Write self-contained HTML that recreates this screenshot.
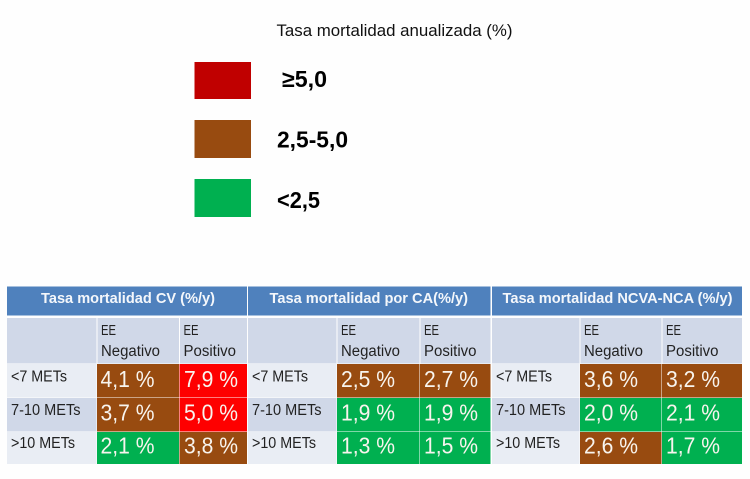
<!DOCTYPE html>
<html lang="es">
<head>
<meta charset="utf-8">
<title>Tasa mortalidad anualizada</title>
<style>
html,body{margin:0;padding:0;background:#fefefe;}
#stage{display:block;width:750px;height:479px;}
text{font-family:"Liberation Sans",sans-serif;}
</style>
</head>
<body>
<svg id="stage" xmlns="http://www.w3.org/2000/svg" width="750" height="479" viewBox="0 0 750 479">
  <g style="filter:blur(.35px)">
    <text x="276.5" y="36" font-size="17" fill="#111" textLength="236" lengthAdjust="spacingAndGlyphs">Tasa mortalidad anualizada (%)</text>
    <rect x="194.5" y="62" width="56.5" height="37" fill="#c00000"/>
    <text x="282" y="87" font-size="23" font-weight="700" fill="#000" textLength="45" lengthAdjust="spacingAndGlyphs">≥5,0</text>
    <rect x="194.5" y="120" width="56.5" height="38" fill="#984b10"/>
    <text x="277" y="147.5" font-size="23" font-weight="700" fill="#000" textLength="71" lengthAdjust="spacingAndGlyphs">2,5-5,0</text>
    <rect x="194.5" y="179" width="56.5" height="38" fill="#00b050"/>
    <text x="277" y="208" font-size="23" font-weight="700" fill="#000" textLength="43" lengthAdjust="spacingAndGlyphs">&lt;2,5</text>
  </g>
  <g id="tables" style="filter:blur(.35px)"></g>
</svg>
<script>
// Data
const panelTitles = ['Tasa mortalidad CV (%/y)', 'Tasa mortalidad por CA(%/y)', 'Tasa mortalidad NCVA-NCA (%/y)'];
const fitnessLabels = ['<7 METs', '7-10 METs', '>10 METs'];
const eeNegative = [
  [4.1, 3.7, 2.1],
  [2.5, 1.9, 1.3],
  [3.6, 2.0, 2.6]
];
const eePositive = [
  [7.9, 5.0, 3.8],
  [2.7, 1.9, 1.5],
  [3.2, 2.1, 1.7]
];
const thresholds = [2.5, 5.0];

// Layout
const NS = 'http://www.w3.org/2000/svg';
const root = document.getElementById('tables');
const panelLayout = [
  {x0: 7, x1: 96.5, x2: 179, x3: 247, tx: 41, tw: 174, lab: 11, neg: 101, pos: 183.5, valNeg: 100.5, valPos: 184},
  {x0: 248, x1: 336.5, x2: 419.5, x3: 490.5, tx: 269.5, tw: 198.5, lab: 252, neg: 341, pos: 424, valNeg: 341, valPos: 424},
  {x0: 492, x1: 579.5, x2: 661.5, x3: 742, tx: 502.5, tw: 230, lab: 496, neg: 584, pos: 666, valNeg: 584, valPos: 666}
];
const rowTop = [364, 398, 432];
const rowBottom = [397.5, 431.5, 464];
const rowBase = [387, 420.5, 453.5];
const labelBase = [381.5, 415, 448];
const labelWidth = [56, 69.5, 64];

function rect(x0, y0, x1, y1, fill) {
  const r = document.createElementNS(NS, 'rect');
  r.setAttribute('x', x0);
  r.setAttribute('y', y0);
  r.setAttribute('width', x1 - x0);
  r.setAttribute('height', y1 - y0);
  r.setAttribute('fill', fill);
  root.appendChild(r);
  return r;
}
function label(str, x, y, size, width, fill, bold) {
  const t = document.createElementNS(NS, 'text');
  t.setAttribute('x', x);
  t.setAttribute('y', y);
  t.setAttribute('font-size', size);
  t.setAttribute('fill', fill);
  if (bold) t.setAttribute('font-weight', '700');
  t.setAttribute('textLength', width);
  t.setAttribute('lengthAdjust', 'spacingAndGlyphs');
  t.textContent = str;
  root.appendChild(t);
  return t;
}
function colorFor(v) {
  if (v >= thresholds[1]) return '#fe0000';
  if (v >= thresholds[0]) return '#984b10';
  return '#00b050';
}
function fmt(v) {
  return v.toFixed(1).replace('.', ',') + ' %';
}

panelTitles.forEach(function (title, p) {
  const L = panelLayout[p];

  const head = rect(L.x0, 286.5, L.x3, 315.5, '#4f81bd');
  
  
  const headText = label(title, L.tx, 303, 15, L.tw, '#f4f7fb', true);
  
  

  const sub0 = rect(L.x0, 318, L.x1, 363.5, '#d0d8e8');
  
  
  const sub1 = rect(L.x1 + 1, 318, L.x2, 363.5, '#d0d8e8');
  
  
  const sub2 = rect(L.x2 + 1, 318, L.x3, 363.5, '#d0d8e8');
  
  

  const ee1 = label('EE', L.neg, 335, 15, 15, '#222', false);
  
  
  const neg = label('Negativo', L.neg, 356, 15.5, 59, '#222', false);
  
  
  const ee2 = label('EE', L.pos, 335, 15, 15, '#222', false);
  
  
  const pos = label('Positivo', L.pos, 356, 15.5, 52.5, '#222', false);
  
  

  fitnessLabels.forEach(function (name, r) {
    const bg = rect(L.x0, rowTop[r], L.x1, rowBottom[r], r === 1 ? '#d0d8e8' : '#e9edf4');
    
    
    const lab = label(name, L.lab, labelBase[r], 15.5, labelWidth[r], '#222', false);
    
    

    const vn = eeNegative[p][r];
    const c1 = rect(L.x1 + 0.5, rowTop[r], L.x2, rowBottom[r], colorFor(vn));
    
    
    const t1 = label(fmt(vn), L.valNeg, rowBase[r], 23, 54, '#f8f4ee', false);
    
    

    const vp = eePositive[p][r];
    const c2 = rect(L.x2 + 0.5, rowTop[r], L.x3, rowBottom[r], colorFor(vp));
    
    
    const t2 = label(fmt(vp), L.valPos, rowBase[r], 23, 54, '#f8f4ee', false);
    
    
  });
});
</script>
</body>
</html>
